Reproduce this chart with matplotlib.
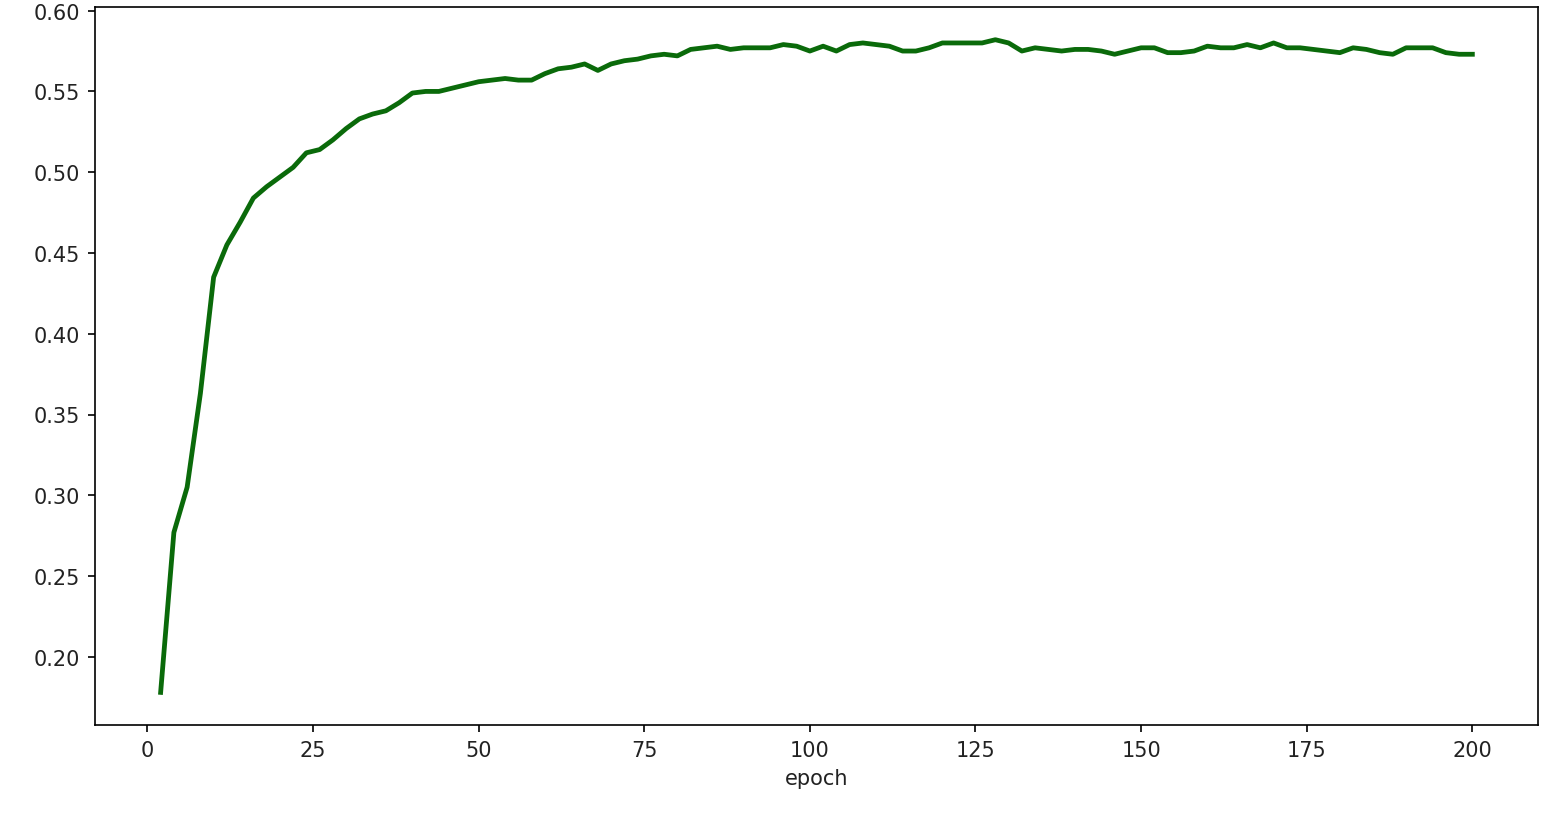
import matplotlib
matplotlib.use('Agg')
import matplotlib.pyplot as plt

# accuracy read every 2 epochs
epochs = list(range(2, 201, 2))
acc = [0.178, 0.277, 0.305, 0.363, 0.435, 0.455, 0.469, 0.484, 0.491, 0.497,
       0.503, 0.512, 0.514, 0.520, 0.527, 0.533, 0.536, 0.538, 0.543, 0.549,
       0.550, 0.550, 0.552, 0.554, 0.556, 0.557, 0.558, 0.557, 0.557, 0.561,
       0.564, 0.565, 0.567, 0.563, 0.567, 0.569, 0.570, 0.572, 0.573, 0.572,
       0.576, 0.577, 0.578, 0.576, 0.577, 0.577, 0.577, 0.579, 0.578, 0.575,
       0.578, 0.575, 0.579, 0.580, 0.579, 0.578, 0.575, 0.575, 0.577, 0.580,
       0.580, 0.580, 0.580, 0.582, 0.580, 0.575, 0.577, 0.576, 0.575, 0.576,
       0.576, 0.575, 0.573, 0.575, 0.577, 0.577, 0.574, 0.574, 0.575, 0.578,
       0.577, 0.577, 0.579, 0.577, 0.580, 0.577, 0.577, 0.576, 0.575, 0.574,
       0.577, 0.576, 0.574, 0.573, 0.577, 0.577, 0.577, 0.574, 0.573, 0.573]

fig = plt.figure(figsize=(10.32, 5.473), dpi=150)
ax = fig.add_axes([0.0614, 0.1157, 0.9321, 0.8745])
ax.plot(epochs, acc, color='#0a6a0a', linewidth=2.3)
ax.tick_params(labelcolor='#222222')
ax.set_xlabel('epoch', color='#222222')
fig.savefig('out.png', dpi=150)
